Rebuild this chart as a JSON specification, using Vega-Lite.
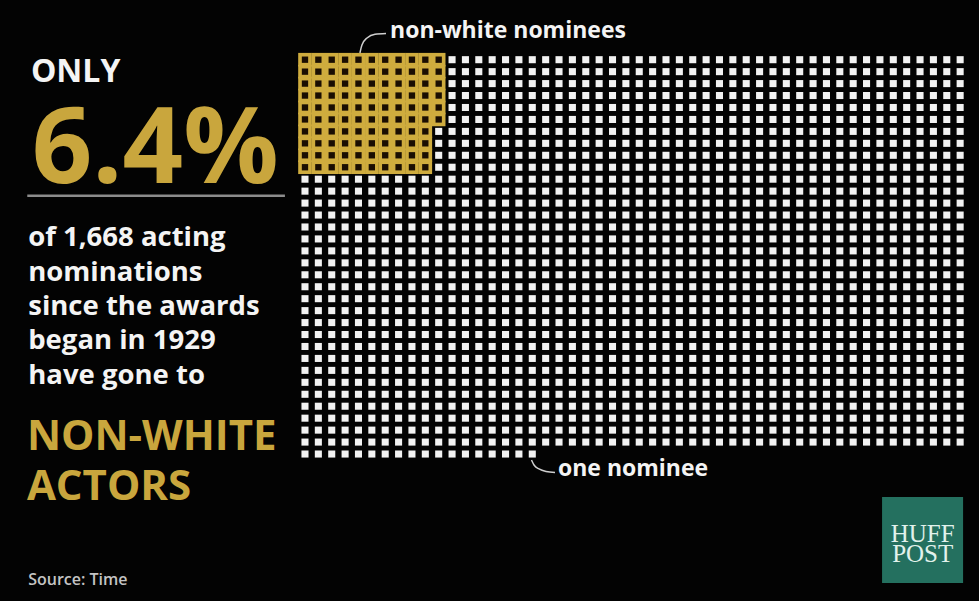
{
  "$schema": "https://vega.github.io/schema/vega-lite/v6.json",
  "width": 979,
  "height": 601,
  "padding": 0,
  "autosize": {"type": "none"},
  "background": "#030303",
  "config": {"view": {"stroke": null}},
  "datasets": {
    "cells": [
      {"c":0,"r":0,"g":1},{"c":1,"r":0,"g":1},{"c":2,"r":0,"g":1},{"c":3,"r":0,"g":1},{"c":4,"r":0,"g":1},{"c":5,"r":0,"g":1},{"c":6,"r":0,"g":1},{"c":7,"r":0,"g":1},{"c":8,"r":0,"g":1},{"c":9,"r":0,"g":1},{"c":10,"r":0,"g":1},
      {"c":11,"r":0},{"c":12,"r":0},{"c":13,"r":0},{"c":14,"r":0},{"c":15,"r":0},{"c":16,"r":0},{"c":17,"r":0},{"c":18,"r":0},{"c":19,"r":0},{"c":20,"r":0},{"c":21,"r":0},{"c":22,"r":0},{"c":23,"r":0},{"c":24,"r":0},{"c":25,"r":0},{"c":26,"r":0},{"c":27,"r":0},{"c":28,"r":0},{"c":29,"r":0},{"c":30,"r":0},{"c":31,"r":0},{"c":32,"r":0},{"c":33,"r":0},{"c":34,"r":0},{"c":35,"r":0},{"c":36,"r":0},{"c":37,"r":0},{"c":38,"r":0},{"c":39,"r":0},{"c":40,"r":0},{"c":41,"r":0},{"c":42,"r":0},{"c":43,"r":0},{"c":44,"r":0},{"c":45,"r":0},{"c":46,"r":0},{"c":47,"r":0},{"c":48,"r":0},{"c":49,"r":0},
      {"c":0,"r":1,"g":1},{"c":1,"r":1,"g":1},{"c":2,"r":1,"g":1},{"c":3,"r":1,"g":1},{"c":4,"r":1,"g":1},{"c":5,"r":1,"g":1},{"c":6,"r":1,"g":1},{"c":7,"r":1,"g":1},{"c":8,"r":1,"g":1},{"c":9,"r":1,"g":1},{"c":10,"r":1,"g":1},
      {"c":11,"r":1},{"c":12,"r":1},{"c":13,"r":1},{"c":14,"r":1},{"c":15,"r":1},{"c":16,"r":1},{"c":17,"r":1},{"c":18,"r":1},{"c":19,"r":1},{"c":20,"r":1},{"c":21,"r":1},{"c":22,"r":1},{"c":23,"r":1},{"c":24,"r":1},{"c":25,"r":1},{"c":26,"r":1},{"c":27,"r":1},{"c":28,"r":1},{"c":29,"r":1},{"c":30,"r":1},{"c":31,"r":1},{"c":32,"r":1},{"c":33,"r":1},{"c":34,"r":1},{"c":35,"r":1},{"c":36,"r":1},{"c":37,"r":1},{"c":38,"r":1},{"c":39,"r":1},{"c":40,"r":1},{"c":41,"r":1},{"c":42,"r":1},{"c":43,"r":1},{"c":44,"r":1},{"c":45,"r":1},{"c":46,"r":1},{"c":47,"r":1},{"c":48,"r":1},{"c":49,"r":1},
      {"c":0,"r":2,"g":1},{"c":1,"r":2,"g":1},{"c":2,"r":2,"g":1},{"c":3,"r":2,"g":1},{"c":4,"r":2,"g":1},{"c":5,"r":2,"g":1},{"c":6,"r":2,"g":1},{"c":7,"r":2,"g":1},{"c":8,"r":2,"g":1},{"c":9,"r":2,"g":1},{"c":10,"r":2,"g":1},
      {"c":11,"r":2},{"c":12,"r":2},{"c":13,"r":2},{"c":14,"r":2},{"c":15,"r":2},{"c":16,"r":2},{"c":17,"r":2},{"c":18,"r":2},{"c":19,"r":2},{"c":20,"r":2},{"c":21,"r":2},{"c":22,"r":2},{"c":23,"r":2},{"c":24,"r":2},{"c":25,"r":2},{"c":26,"r":2},{"c":27,"r":2},{"c":28,"r":2},{"c":29,"r":2},{"c":30,"r":2},{"c":31,"r":2},{"c":32,"r":2},{"c":33,"r":2},{"c":34,"r":2},{"c":35,"r":2},{"c":36,"r":2},{"c":37,"r":2},{"c":38,"r":2},{"c":39,"r":2},{"c":40,"r":2},{"c":41,"r":2},{"c":42,"r":2},{"c":43,"r":2},{"c":44,"r":2},{"c":45,"r":2},{"c":46,"r":2},{"c":47,"r":2},{"c":48,"r":2},{"c":49,"r":2},
      {"c":0,"r":3,"g":1},{"c":1,"r":3,"g":1},{"c":2,"r":3,"g":1},{"c":3,"r":3,"g":1},{"c":4,"r":3,"g":1},{"c":5,"r":3,"g":1},{"c":6,"r":3,"g":1},{"c":7,"r":3,"g":1},{"c":8,"r":3,"g":1},{"c":9,"r":3,"g":1},{"c":10,"r":3,"g":1},
      {"c":11,"r":3},{"c":12,"r":3},{"c":13,"r":3},{"c":14,"r":3},{"c":15,"r":3},{"c":16,"r":3},{"c":17,"r":3},{"c":18,"r":3},{"c":19,"r":3},{"c":20,"r":3},{"c":21,"r":3},{"c":22,"r":3},{"c":23,"r":3},{"c":24,"r":3},{"c":25,"r":3},{"c":26,"r":3},{"c":27,"r":3},{"c":28,"r":3},{"c":29,"r":3},{"c":30,"r":3},{"c":31,"r":3},{"c":32,"r":3},{"c":33,"r":3},{"c":34,"r":3},{"c":35,"r":3},{"c":36,"r":3},{"c":37,"r":3},{"c":38,"r":3},{"c":39,"r":3},{"c":40,"r":3},{"c":41,"r":3},{"c":42,"r":3},{"c":43,"r":3},{"c":44,"r":3},{"c":45,"r":3},{"c":46,"r":3},{"c":47,"r":3},{"c":48,"r":3},{"c":49,"r":3},
      {"c":0,"r":4,"g":1},{"c":1,"r":4,"g":1},{"c":2,"r":4,"g":1},{"c":3,"r":4,"g":1},{"c":4,"r":4,"g":1},{"c":5,"r":4,"g":1},{"c":6,"r":4,"g":1},{"c":7,"r":4,"g":1},{"c":8,"r":4,"g":1},{"c":9,"r":4,"g":1},{"c":10,"r":4,"g":1},
      {"c":11,"r":4},{"c":12,"r":4},{"c":13,"r":4},{"c":14,"r":4},{"c":15,"r":4},{"c":16,"r":4},{"c":17,"r":4},{"c":18,"r":4},{"c":19,"r":4},{"c":20,"r":4},{"c":21,"r":4},{"c":22,"r":4},{"c":23,"r":4},{"c":24,"r":4},{"c":25,"r":4},{"c":26,"r":4},{"c":27,"r":4},{"c":28,"r":4},{"c":29,"r":4},{"c":30,"r":4},{"c":31,"r":4},{"c":32,"r":4},{"c":33,"r":4},{"c":34,"r":4},{"c":35,"r":4},{"c":36,"r":4},{"c":37,"r":4},{"c":38,"r":4},{"c":39,"r":4},{"c":40,"r":4},{"c":41,"r":4},{"c":42,"r":4},{"c":43,"r":4},{"c":44,"r":4},{"c":45,"r":4},{"c":46,"r":4},{"c":47,"r":4},{"c":48,"r":4},{"c":49,"r":4},
      {"c":0,"r":5,"g":1},{"c":1,"r":5,"g":1},{"c":2,"r":5,"g":1},{"c":3,"r":5,"g":1},{"c":4,"r":5,"g":1},{"c":5,"r":5,"g":1},{"c":6,"r":5,"g":1},{"c":7,"r":5,"g":1},{"c":8,"r":5,"g":1},{"c":9,"r":5,"g":1},{"c":10,"r":5,"g":1},
      {"c":11,"r":5},{"c":12,"r":5},{"c":13,"r":5},{"c":14,"r":5},{"c":15,"r":5},{"c":16,"r":5},{"c":17,"r":5},{"c":18,"r":5},{"c":19,"r":5},{"c":20,"r":5},{"c":21,"r":5},{"c":22,"r":5},{"c":23,"r":5},{"c":24,"r":5},{"c":25,"r":5},{"c":26,"r":5},{"c":27,"r":5},{"c":28,"r":5},{"c":29,"r":5},{"c":30,"r":5},{"c":31,"r":5},{"c":32,"r":5},{"c":33,"r":5},{"c":34,"r":5},{"c":35,"r":5},{"c":36,"r":5},{"c":37,"r":5},{"c":38,"r":5},{"c":39,"r":5},{"c":40,"r":5},{"c":41,"r":5},{"c":42,"r":5},{"c":43,"r":5},{"c":44,"r":5},{"c":45,"r":5},{"c":46,"r":5},{"c":47,"r":5},{"c":48,"r":5},{"c":49,"r":5},
      {"c":0,"r":6,"g":1},{"c":1,"r":6,"g":1},{"c":2,"r":6,"g":1},{"c":3,"r":6,"g":1},{"c":4,"r":6,"g":1},{"c":5,"r":6,"g":1},{"c":6,"r":6,"g":1},{"c":7,"r":6,"g":1},{"c":8,"r":6,"g":1},{"c":9,"r":6,"g":1},
      {"c":10,"r":6},{"c":11,"r":6},{"c":12,"r":6},{"c":13,"r":6},{"c":14,"r":6},{"c":15,"r":6},{"c":16,"r":6},{"c":17,"r":6},{"c":18,"r":6},{"c":19,"r":6},{"c":20,"r":6},{"c":21,"r":6},{"c":22,"r":6},{"c":23,"r":6},{"c":24,"r":6},{"c":25,"r":6},{"c":26,"r":6},{"c":27,"r":6},{"c":28,"r":6},{"c":29,"r":6},{"c":30,"r":6},{"c":31,"r":6},{"c":32,"r":6},{"c":33,"r":6},{"c":34,"r":6},{"c":35,"r":6},{"c":36,"r":6},{"c":37,"r":6},{"c":38,"r":6},{"c":39,"r":6},{"c":40,"r":6},{"c":41,"r":6},{"c":42,"r":6},{"c":43,"r":6},{"c":44,"r":6},{"c":45,"r":6},{"c":46,"r":6},{"c":47,"r":6},{"c":48,"r":6},{"c":49,"r":6},
      {"c":0,"r":7,"g":1},{"c":1,"r":7,"g":1},{"c":2,"r":7,"g":1},{"c":3,"r":7,"g":1},{"c":4,"r":7,"g":1},{"c":5,"r":7,"g":1},{"c":6,"r":7,"g":1},{"c":7,"r":7,"g":1},{"c":8,"r":7,"g":1},{"c":9,"r":7,"g":1},
      {"c":10,"r":7},{"c":11,"r":7},{"c":12,"r":7},{"c":13,"r":7},{"c":14,"r":7},{"c":15,"r":7},{"c":16,"r":7},{"c":17,"r":7},{"c":18,"r":7},{"c":19,"r":7},{"c":20,"r":7},{"c":21,"r":7},{"c":22,"r":7},{"c":23,"r":7},{"c":24,"r":7},{"c":25,"r":7},{"c":26,"r":7},{"c":27,"r":7},{"c":28,"r":7},{"c":29,"r":7},{"c":30,"r":7},{"c":31,"r":7},{"c":32,"r":7},{"c":33,"r":7},{"c":34,"r":7},{"c":35,"r":7},{"c":36,"r":7},{"c":37,"r":7},{"c":38,"r":7},{"c":39,"r":7},{"c":40,"r":7},{"c":41,"r":7},{"c":42,"r":7},{"c":43,"r":7},{"c":44,"r":7},{"c":45,"r":7},{"c":46,"r":7},{"c":47,"r":7},{"c":48,"r":7},{"c":49,"r":7},
      {"c":0,"r":8,"g":1},{"c":1,"r":8,"g":1},{"c":2,"r":8,"g":1},{"c":3,"r":8,"g":1},{"c":4,"r":8,"g":1},{"c":5,"r":8,"g":1},{"c":6,"r":8,"g":1},{"c":7,"r":8,"g":1},{"c":8,"r":8,"g":1},{"c":9,"r":8,"g":1},
      {"c":10,"r":8},{"c":11,"r":8},{"c":12,"r":8},{"c":13,"r":8},{"c":14,"r":8},{"c":15,"r":8},{"c":16,"r":8},{"c":17,"r":8},{"c":18,"r":8},{"c":19,"r":8},{"c":20,"r":8},{"c":21,"r":8},{"c":22,"r":8},{"c":23,"r":8},{"c":24,"r":8},{"c":25,"r":8},{"c":26,"r":8},{"c":27,"r":8},{"c":28,"r":8},{"c":29,"r":8},{"c":30,"r":8},{"c":31,"r":8},{"c":32,"r":8},{"c":33,"r":8},{"c":34,"r":8},{"c":35,"r":8},{"c":36,"r":8},{"c":37,"r":8},{"c":38,"r":8},{"c":39,"r":8},{"c":40,"r":8},{"c":41,"r":8},{"c":42,"r":8},{"c":43,"r":8},{"c":44,"r":8},{"c":45,"r":8},{"c":46,"r":8},{"c":47,"r":8},{"c":48,"r":8},{"c":49,"r":8},
      {"c":0,"r":9,"g":1},{"c":1,"r":9,"g":1},{"c":2,"r":9,"g":1},{"c":3,"r":9,"g":1},{"c":4,"r":9,"g":1},{"c":5,"r":9,"g":1},{"c":6,"r":9,"g":1},{"c":7,"r":9,"g":1},{"c":8,"r":9,"g":1},{"c":9,"r":9,"g":1},
      {"c":10,"r":9},{"c":11,"r":9},{"c":12,"r":9},{"c":13,"r":9},{"c":14,"r":9},{"c":15,"r":9},{"c":16,"r":9},{"c":17,"r":9},{"c":18,"r":9},{"c":19,"r":9},{"c":20,"r":9},{"c":21,"r":9},{"c":22,"r":9},{"c":23,"r":9},{"c":24,"r":9},{"c":25,"r":9},{"c":26,"r":9},{"c":27,"r":9},{"c":28,"r":9},{"c":29,"r":9},{"c":30,"r":9},{"c":31,"r":9},{"c":32,"r":9},{"c":33,"r":9},{"c":34,"r":9},{"c":35,"r":9},{"c":36,"r":9},{"c":37,"r":9},{"c":38,"r":9},{"c":39,"r":9},{"c":40,"r":9},{"c":41,"r":9},{"c":42,"r":9},{"c":43,"r":9},{"c":44,"r":9},{"c":45,"r":9},{"c":46,"r":9},{"c":47,"r":9},{"c":48,"r":9},{"c":49,"r":9},
      {"c":0,"r":10},{"c":1,"r":10},{"c":2,"r":10},{"c":3,"r":10},{"c":4,"r":10},{"c":5,"r":10},{"c":6,"r":10},{"c":7,"r":10},{"c":8,"r":10},{"c":9,"r":10},{"c":10,"r":10},{"c":11,"r":10},{"c":12,"r":10},{"c":13,"r":10},{"c":14,"r":10},{"c":15,"r":10},{"c":16,"r":10},{"c":17,"r":10},{"c":18,"r":10},{"c":19,"r":10},{"c":20,"r":10},{"c":21,"r":10},{"c":22,"r":10},{"c":23,"r":10},{"c":24,"r":10},{"c":25,"r":10},{"c":26,"r":10},{"c":27,"r":10},{"c":28,"r":10},{"c":29,"r":10},{"c":30,"r":10},{"c":31,"r":10},{"c":32,"r":10},{"c":33,"r":10},{"c":34,"r":10},{"c":35,"r":10},{"c":36,"r":10},{"c":37,"r":10},{"c":38,"r":10},{"c":39,"r":10},{"c":40,"r":10},{"c":41,"r":10},{"c":42,"r":10},{"c":43,"r":10},{"c":44,"r":10},{"c":45,"r":10},{"c":46,"r":10},{"c":47,"r":10},{"c":48,"r":10},{"c":49,"r":10},
      {"c":0,"r":11},{"c":1,"r":11},{"c":2,"r":11},{"c":3,"r":11},{"c":4,"r":11},{"c":5,"r":11},{"c":6,"r":11},{"c":7,"r":11},{"c":8,"r":11},{"c":9,"r":11},{"c":10,"r":11},{"c":11,"r":11},{"c":12,"r":11},{"c":13,"r":11},{"c":14,"r":11},{"c":15,"r":11},{"c":16,"r":11},{"c":17,"r":11},{"c":18,"r":11},{"c":19,"r":11},{"c":20,"r":11},{"c":21,"r":11},{"c":22,"r":11},{"c":23,"r":11},{"c":24,"r":11},{"c":25,"r":11},{"c":26,"r":11},{"c":27,"r":11},{"c":28,"r":11},{"c":29,"r":11},{"c":30,"r":11},{"c":31,"r":11},{"c":32,"r":11},{"c":33,"r":11},{"c":34,"r":11},{"c":35,"r":11},{"c":36,"r":11},{"c":37,"r":11},{"c":38,"r":11},{"c":39,"r":11},{"c":40,"r":11},{"c":41,"r":11},{"c":42,"r":11},{"c":43,"r":11},{"c":44,"r":11},{"c":45,"r":11},{"c":46,"r":11},{"c":47,"r":11},{"c":48,"r":11},{"c":49,"r":11},
      {"c":0,"r":12},{"c":1,"r":12},{"c":2,"r":12},{"c":3,"r":12},{"c":4,"r":12},{"c":5,"r":12},{"c":6,"r":12},{"c":7,"r":12},{"c":8,"r":12},{"c":9,"r":12},{"c":10,"r":12},{"c":11,"r":12},{"c":12,"r":12},{"c":13,"r":12},{"c":14,"r":12},{"c":15,"r":12},{"c":16,"r":12},{"c":17,"r":12},{"c":18,"r":12},{"c":19,"r":12},{"c":20,"r":12},{"c":21,"r":12},{"c":22,"r":12},{"c":23,"r":12},{"c":24,"r":12},{"c":25,"r":12},{"c":26,"r":12},{"c":27,"r":12},{"c":28,"r":12},{"c":29,"r":12},{"c":30,"r":12},{"c":31,"r":12},{"c":32,"r":12},{"c":33,"r":12},{"c":34,"r":12},{"c":35,"r":12},{"c":36,"r":12},{"c":37,"r":12},{"c":38,"r":12},{"c":39,"r":12},{"c":40,"r":12},{"c":41,"r":12},{"c":42,"r":12},{"c":43,"r":12},{"c":44,"r":12},{"c":45,"r":12},{"c":46,"r":12},{"c":47,"r":12},{"c":48,"r":12},{"c":49,"r":12},
      {"c":0,"r":13},{"c":1,"r":13},{"c":2,"r":13},{"c":3,"r":13},{"c":4,"r":13},{"c":5,"r":13},{"c":6,"r":13},{"c":7,"r":13},{"c":8,"r":13},{"c":9,"r":13},{"c":10,"r":13},{"c":11,"r":13},{"c":12,"r":13},{"c":13,"r":13},{"c":14,"r":13},{"c":15,"r":13},{"c":16,"r":13},{"c":17,"r":13},{"c":18,"r":13},{"c":19,"r":13},{"c":20,"r":13},{"c":21,"r":13},{"c":22,"r":13},{"c":23,"r":13},{"c":24,"r":13},{"c":25,"r":13},{"c":26,"r":13},{"c":27,"r":13},{"c":28,"r":13},{"c":29,"r":13},{"c":30,"r":13},{"c":31,"r":13},{"c":32,"r":13},{"c":33,"r":13},{"c":34,"r":13},{"c":35,"r":13},{"c":36,"r":13},{"c":37,"r":13},{"c":38,"r":13},{"c":39,"r":13},{"c":40,"r":13},{"c":41,"r":13},{"c":42,"r":13},{"c":43,"r":13},{"c":44,"r":13},{"c":45,"r":13},{"c":46,"r":13},{"c":47,"r":13},{"c":48,"r":13},{"c":49,"r":13},
      {"c":0,"r":14},{"c":1,"r":14},{"c":2,"r":14},{"c":3,"r":14},{"c":4,"r":14},{"c":5,"r":14},{"c":6,"r":14},{"c":7,"r":14},{"c":8,"r":14},{"c":9,"r":14},{"c":10,"r":14},{"c":11,"r":14},{"c":12,"r":14},{"c":13,"r":14},{"c":14,"r":14},{"c":15,"r":14},{"c":16,"r":14},{"c":17,"r":14},{"c":18,"r":14},{"c":19,"r":14},{"c":20,"r":14},{"c":21,"r":14},{"c":22,"r":14},{"c":23,"r":14},{"c":24,"r":14},{"c":25,"r":14},{"c":26,"r":14},{"c":27,"r":14},{"c":28,"r":14},{"c":29,"r":14},{"c":30,"r":14},{"c":31,"r":14},{"c":32,"r":14},{"c":33,"r":14},{"c":34,"r":14},{"c":35,"r":14},{"c":36,"r":14},{"c":37,"r":14},{"c":38,"r":14},{"c":39,"r":14},{"c":40,"r":14},{"c":41,"r":14},{"c":42,"r":14},{"c":43,"r":14},{"c":44,"r":14},{"c":45,"r":14},{"c":46,"r":14},{"c":47,"r":14},{"c":48,"r":14},{"c":49,"r":14},
      {"c":0,"r":15},{"c":1,"r":15},{"c":2,"r":15},{"c":3,"r":15},{"c":4,"r":15},{"c":5,"r":15},{"c":6,"r":15},{"c":7,"r":15},{"c":8,"r":15},{"c":9,"r":15},{"c":10,"r":15},{"c":11,"r":15},{"c":12,"r":15},{"c":13,"r":15},{"c":14,"r":15},{"c":15,"r":15},{"c":16,"r":15},{"c":17,"r":15},{"c":18,"r":15},{"c":19,"r":15},{"c":20,"r":15},{"c":21,"r":15},{"c":22,"r":15},{"c":23,"r":15},{"c":24,"r":15},{"c":25,"r":15},{"c":26,"r":15},{"c":27,"r":15},{"c":28,"r":15},{"c":29,"r":15},{"c":30,"r":15},{"c":31,"r":15},{"c":32,"r":15},{"c":33,"r":15},{"c":34,"r":15},{"c":35,"r":15},{"c":36,"r":15},{"c":37,"r":15},{"c":38,"r":15},{"c":39,"r":15},{"c":40,"r":15},{"c":41,"r":15},{"c":42,"r":15},{"c":43,"r":15},{"c":44,"r":15},{"c":45,"r":15},{"c":46,"r":15},{"c":47,"r":15},{"c":48,"r":15},{"c":49,"r":15},
      {"c":0,"r":16},{"c":1,"r":16},{"c":2,"r":16},{"c":3,"r":16},{"c":4,"r":16},{"c":5,"r":16},{"c":6,"r":16},{"c":7,"r":16},{"c":8,"r":16},{"c":9,"r":16},{"c":10,"r":16},{"c":11,"r":16},{"c":12,"r":16},{"c":13,"r":16},{"c":14,"r":16},{"c":15,"r":16},{"c":16,"r":16},{"c":17,"r":16},{"c":18,"r":16},{"c":19,"r":16},{"c":20,"r":16},{"c":21,"r":16},{"c":22,"r":16},{"c":23,"r":16},{"c":24,"r":16},{"c":25,"r":16},{"c":26,"r":16},{"c":27,"r":16},{"c":28,"r":16},{"c":29,"r":16},{"c":30,"r":16},{"c":31,"r":16},{"c":32,"r":16},{"c":33,"r":16},{"c":34,"r":16},{"c":35,"r":16},{"c":36,"r":16},{"c":37,"r":16},{"c":38,"r":16},{"c":39,"r":16},{"c":40,"r":16},{"c":41,"r":16},{"c":42,"r":16},{"c":43,"r":16},{"c":44,"r":16},{"c":45,"r":16},{"c":46,"r":16},{"c":47,"r":16},{"c":48,"r":16},{"c":49,"r":16},
      {"c":0,"r":17},{"c":1,"r":17},{"c":2,"r":17},{"c":3,"r":17},{"c":4,"r":17},{"c":5,"r":17},{"c":6,"r":17},{"c":7,"r":17},{"c":8,"r":17},{"c":9,"r":17},{"c":10,"r":17},{"c":11,"r":17},{"c":12,"r":17},{"c":13,"r":17},{"c":14,"r":17},{"c":15,"r":17},{"c":16,"r":17},{"c":17,"r":17},{"c":18,"r":17},{"c":19,"r":17},{"c":20,"r":17},{"c":21,"r":17},{"c":22,"r":17},{"c":23,"r":17},{"c":24,"r":17},{"c":25,"r":17},{"c":26,"r":17},{"c":27,"r":17},{"c":28,"r":17},{"c":29,"r":17},{"c":30,"r":17},{"c":31,"r":17},{"c":32,"r":17},{"c":33,"r":17},{"c":34,"r":17},{"c":35,"r":17},{"c":36,"r":17},{"c":37,"r":17},{"c":38,"r":17},{"c":39,"r":17},{"c":40,"r":17},{"c":41,"r":17},{"c":42,"r":17},{"c":43,"r":17},{"c":44,"r":17},{"c":45,"r":17},{"c":46,"r":17},{"c":47,"r":17},{"c":48,"r":17},{"c":49,"r":17},
      {"c":0,"r":18},{"c":1,"r":18},{"c":2,"r":18},{"c":3,"r":18},{"c":4,"r":18},{"c":5,"r":18},{"c":6,"r":18},{"c":7,"r":18},{"c":8,"r":18},{"c":9,"r":18},{"c":10,"r":18},{"c":11,"r":18},{"c":12,"r":18},{"c":13,"r":18},{"c":14,"r":18},{"c":15,"r":18},{"c":16,"r":18},{"c":17,"r":18},{"c":18,"r":18},{"c":19,"r":18},{"c":20,"r":18},{"c":21,"r":18},{"c":22,"r":18},{"c":23,"r":18},{"c":24,"r":18},{"c":25,"r":18},{"c":26,"r":18},{"c":27,"r":18},{"c":28,"r":18},{"c":29,"r":18},{"c":30,"r":18},{"c":31,"r":18},{"c":32,"r":18},{"c":33,"r":18},{"c":34,"r":18},{"c":35,"r":18},{"c":36,"r":18},{"c":37,"r":18},{"c":38,"r":18},{"c":39,"r":18},{"c":40,"r":18},{"c":41,"r":18},{"c":42,"r":18},{"c":43,"r":18},{"c":44,"r":18},{"c":45,"r":18},{"c":46,"r":18},{"c":47,"r":18},{"c":48,"r":18},{"c":49,"r":18},
      {"c":0,"r":19},{"c":1,"r":19},{"c":2,"r":19},{"c":3,"r":19},{"c":4,"r":19},{"c":5,"r":19},{"c":6,"r":19},{"c":7,"r":19},{"c":8,"r":19},{"c":9,"r":19},{"c":10,"r":19},{"c":11,"r":19},{"c":12,"r":19},{"c":13,"r":19},{"c":14,"r":19},{"c":15,"r":19},{"c":16,"r":19},{"c":17,"r":19},{"c":18,"r":19},{"c":19,"r":19},{"c":20,"r":19},{"c":21,"r":19},{"c":22,"r":19},{"c":23,"r":19},{"c":24,"r":19},{"c":25,"r":19},{"c":26,"r":19},{"c":27,"r":19},{"c":28,"r":19},{"c":29,"r":19},{"c":30,"r":19},{"c":31,"r":19},{"c":32,"r":19},{"c":33,"r":19},{"c":34,"r":19},{"c":35,"r":19},{"c":36,"r":19},{"c":37,"r":19},{"c":38,"r":19},{"c":39,"r":19},{"c":40,"r":19},{"c":41,"r":19},{"c":42,"r":19},{"c":43,"r":19},{"c":44,"r":19},{"c":45,"r":19},{"c":46,"r":19},{"c":47,"r":19},{"c":48,"r":19},{"c":49,"r":19},
      {"c":0,"r":20},{"c":1,"r":20},{"c":2,"r":20},{"c":3,"r":20},{"c":4,"r":20},{"c":5,"r":20},{"c":6,"r":20},{"c":7,"r":20},{"c":8,"r":20},{"c":9,"r":20},{"c":10,"r":20},{"c":11,"r":20},{"c":12,"r":20},{"c":13,"r":20},{"c":14,"r":20},{"c":15,"r":20},{"c":16,"r":20},{"c":17,"r":20},{"c":18,"r":20},{"c":19,"r":20},{"c":20,"r":20},{"c":21,"r":20},{"c":22,"r":20},{"c":23,"r":20},{"c":24,"r":20},{"c":25,"r":20},{"c":26,"r":20},{"c":27,"r":20},{"c":28,"r":20},{"c":29,"r":20},{"c":30,"r":20},{"c":31,"r":20},{"c":32,"r":20},{"c":33,"r":20},{"c":34,"r":20},{"c":35,"r":20},{"c":36,"r":20},{"c":37,"r":20},{"c":38,"r":20},{"c":39,"r":20},{"c":40,"r":20},{"c":41,"r":20},{"c":42,"r":20},{"c":43,"r":20},{"c":44,"r":20},{"c":45,"r":20},{"c":46,"r":20},{"c":47,"r":20},{"c":48,"r":20},{"c":49,"r":20},
      {"c":0,"r":21},{"c":1,"r":21},{"c":2,"r":21},{"c":3,"r":21},{"c":4,"r":21},{"c":5,"r":21},{"c":6,"r":21},{"c":7,"r":21},{"c":8,"r":21},{"c":9,"r":21},{"c":10,"r":21},{"c":11,"r":21},{"c":12,"r":21},{"c":13,"r":21},{"c":14,"r":21},{"c":15,"r":21},{"c":16,"r":21},{"c":17,"r":21},{"c":18,"r":21},{"c":19,"r":21},{"c":20,"r":21},{"c":21,"r":21},{"c":22,"r":21},{"c":23,"r":21},{"c":24,"r":21},{"c":25,"r":21},{"c":26,"r":21},{"c":27,"r":21},{"c":28,"r":21},{"c":29,"r":21},{"c":30,"r":21},{"c":31,"r":21},{"c":32,"r":21},{"c":33,"r":21},{"c":34,"r":21},{"c":35,"r":21},{"c":36,"r":21},{"c":37,"r":21},{"c":38,"r":21},{"c":39,"r":21},{"c":40,"r":21},{"c":41,"r":21},{"c":42,"r":21},{"c":43,"r":21},{"c":44,"r":21},{"c":45,"r":21},{"c":46,"r":21},{"c":47,"r":21},{"c":48,"r":21},{"c":49,"r":21},
      {"c":0,"r":22},{"c":1,"r":22},{"c":2,"r":22},{"c":3,"r":22},{"c":4,"r":22},{"c":5,"r":22},{"c":6,"r":22},{"c":7,"r":22},{"c":8,"r":22},{"c":9,"r":22},{"c":10,"r":22},{"c":11,"r":22},{"c":12,"r":22},{"c":13,"r":22},{"c":14,"r":22},{"c":15,"r":22},{"c":16,"r":22},{"c":17,"r":22},{"c":18,"r":22},{"c":19,"r":22},{"c":20,"r":22},{"c":21,"r":22},{"c":22,"r":22},{"c":23,"r":22},{"c":24,"r":22},{"c":25,"r":22},{"c":26,"r":22},{"c":27,"r":22},{"c":28,"r":22},{"c":29,"r":22},{"c":30,"r":22},{"c":31,"r":22},{"c":32,"r":22},{"c":33,"r":22},{"c":34,"r":22},{"c":35,"r":22},{"c":36,"r":22},{"c":37,"r":22},{"c":38,"r":22},{"c":39,"r":22},{"c":40,"r":22},{"c":41,"r":22},{"c":42,"r":22},{"c":43,"r":22},{"c":44,"r":22},{"c":45,"r":22},{"c":46,"r":22},{"c":47,"r":22},{"c":48,"r":22},{"c":49,"r":22},
      {"c":0,"r":23},{"c":1,"r":23},{"c":2,"r":23},{"c":3,"r":23},{"c":4,"r":23},{"c":5,"r":23},{"c":6,"r":23},{"c":7,"r":23},{"c":8,"r":23},{"c":9,"r":23},{"c":10,"r":23},{"c":11,"r":23},{"c":12,"r":23},{"c":13,"r":23},{"c":14,"r":23},{"c":15,"r":23},{"c":16,"r":23},{"c":17,"r":23},{"c":18,"r":23},{"c":19,"r":23},{"c":20,"r":23},{"c":21,"r":23},{"c":22,"r":23},{"c":23,"r":23},{"c":24,"r":23},{"c":25,"r":23},{"c":26,"r":23},{"c":27,"r":23},{"c":28,"r":23},{"c":29,"r":23},{"c":30,"r":23},{"c":31,"r":23},{"c":32,"r":23},{"c":33,"r":23},{"c":34,"r":23},{"c":35,"r":23},{"c":36,"r":23},{"c":37,"r":23},{"c":38,"r":23},{"c":39,"r":23},{"c":40,"r":23},{"c":41,"r":23},{"c":42,"r":23},{"c":43,"r":23},{"c":44,"r":23},{"c":45,"r":23},{"c":46,"r":23},{"c":47,"r":23},{"c":48,"r":23},{"c":49,"r":23},
      {"c":0,"r":24},{"c":1,"r":24},{"c":2,"r":24},{"c":3,"r":24},{"c":4,"r":24},{"c":5,"r":24},{"c":6,"r":24},{"c":7,"r":24},{"c":8,"r":24},{"c":9,"r":24},{"c":10,"r":24},{"c":11,"r":24},{"c":12,"r":24},{"c":13,"r":24},{"c":14,"r":24},{"c":15,"r":24},{"c":16,"r":24},{"c":17,"r":24},{"c":18,"r":24},{"c":19,"r":24},{"c":20,"r":24},{"c":21,"r":24},{"c":22,"r":24},{"c":23,"r":24},{"c":24,"r":24},{"c":25,"r":24},{"c":26,"r":24},{"c":27,"r":24},{"c":28,"r":24},{"c":29,"r":24},{"c":30,"r":24},{"c":31,"r":24},{"c":32,"r":24},{"c":33,"r":24},{"c":34,"r":24},{"c":35,"r":24},{"c":36,"r":24},{"c":37,"r":24},{"c":38,"r":24},{"c":39,"r":24},{"c":40,"r":24},{"c":41,"r":24},{"c":42,"r":24},{"c":43,"r":24},{"c":44,"r":24},{"c":45,"r":24},{"c":46,"r":24},{"c":47,"r":24},{"c":48,"r":24},{"c":49,"r":24},
      {"c":0,"r":25},{"c":1,"r":25},{"c":2,"r":25},{"c":3,"r":25},{"c":4,"r":25},{"c":5,"r":25},{"c":6,"r":25},{"c":7,"r":25},{"c":8,"r":25},{"c":9,"r":25},{"c":10,"r":25},{"c":11,"r":25},{"c":12,"r":25},{"c":13,"r":25},{"c":14,"r":25},{"c":15,"r":25},{"c":16,"r":25},{"c":17,"r":25},{"c":18,"r":25},{"c":19,"r":25},{"c":20,"r":25},{"c":21,"r":25},{"c":22,"r":25},{"c":23,"r":25},{"c":24,"r":25},{"c":25,"r":25},{"c":26,"r":25},{"c":27,"r":25},{"c":28,"r":25},{"c":29,"r":25},{"c":30,"r":25},{"c":31,"r":25},{"c":32,"r":25},{"c":33,"r":25},{"c":34,"r":25},{"c":35,"r":25},{"c":36,"r":25},{"c":37,"r":25},{"c":38,"r":25},{"c":39,"r":25},{"c":40,"r":25},{"c":41,"r":25},{"c":42,"r":25},{"c":43,"r":25},{"c":44,"r":25},{"c":45,"r":25},{"c":46,"r":25},{"c":47,"r":25},{"c":48,"r":25},{"c":49,"r":25},
      {"c":0,"r":26},{"c":1,"r":26},{"c":2,"r":26},{"c":3,"r":26},{"c":4,"r":26},{"c":5,"r":26},{"c":6,"r":26},{"c":7,"r":26},{"c":8,"r":26},{"c":9,"r":26},{"c":10,"r":26},{"c":11,"r":26},{"c":12,"r":26},{"c":13,"r":26},{"c":14,"r":26},{"c":15,"r":26},{"c":16,"r":26},{"c":17,"r":26},{"c":18,"r":26},{"c":19,"r":26},{"c":20,"r":26},{"c":21,"r":26},{"c":22,"r":26},{"c":23,"r":26},{"c":24,"r":26},{"c":25,"r":26},{"c":26,"r":26},{"c":27,"r":26},{"c":28,"r":26},{"c":29,"r":26},{"c":30,"r":26},{"c":31,"r":26},{"c":32,"r":26},{"c":33,"r":26},{"c":34,"r":26},{"c":35,"r":26},{"c":36,"r":26},{"c":37,"r":26},{"c":38,"r":26},{"c":39,"r":26},{"c":40,"r":26},{"c":41,"r":26},{"c":42,"r":26},{"c":43,"r":26},{"c":44,"r":26},{"c":45,"r":26},{"c":46,"r":26},{"c":47,"r":26},{"c":48,"r":26},{"c":49,"r":26},
      {"c":0,"r":27},{"c":1,"r":27},{"c":2,"r":27},{"c":3,"r":27},{"c":4,"r":27},{"c":5,"r":27},{"c":6,"r":27},{"c":7,"r":27},{"c":8,"r":27},{"c":9,"r":27},{"c":10,"r":27},{"c":11,"r":27},{"c":12,"r":27},{"c":13,"r":27},{"c":14,"r":27},{"c":15,"r":27},{"c":16,"r":27},{"c":17,"r":27},{"c":18,"r":27},{"c":19,"r":27},{"c":20,"r":27},{"c":21,"r":27},{"c":22,"r":27},{"c":23,"r":27},{"c":24,"r":27},{"c":25,"r":27},{"c":26,"r":27},{"c":27,"r":27},{"c":28,"r":27},{"c":29,"r":27},{"c":30,"r":27},{"c":31,"r":27},{"c":32,"r":27},{"c":33,"r":27},{"c":34,"r":27},{"c":35,"r":27},{"c":36,"r":27},{"c":37,"r":27},{"c":38,"r":27},{"c":39,"r":27},{"c":40,"r":27},{"c":41,"r":27},{"c":42,"r":27},{"c":43,"r":27},{"c":44,"r":27},{"c":45,"r":27},{"c":46,"r":27},{"c":47,"r":27},{"c":48,"r":27},{"c":49,"r":27},
      {"c":0,"r":28},{"c":1,"r":28},{"c":2,"r":28},{"c":3,"r":28},{"c":4,"r":28},{"c":5,"r":28},{"c":6,"r":28},{"c":7,"r":28},{"c":8,"r":28},{"c":9,"r":28},{"c":10,"r":28},{"c":11,"r":28},{"c":12,"r":28},{"c":13,"r":28},{"c":14,"r":28},{"c":15,"r":28},{"c":16,"r":28},{"c":17,"r":28},{"c":18,"r":28},{"c":19,"r":28},{"c":20,"r":28},{"c":21,"r":28},{"c":22,"r":28},{"c":23,"r":28},{"c":24,"r":28},{"c":25,"r":28},{"c":26,"r":28},{"c":27,"r":28},{"c":28,"r":28},{"c":29,"r":28},{"c":30,"r":28},{"c":31,"r":28},{"c":32,"r":28},{"c":33,"r":28},{"c":34,"r":28},{"c":35,"r":28},{"c":36,"r":28},{"c":37,"r":28},{"c":38,"r":28},{"c":39,"r":28},{"c":40,"r":28},{"c":41,"r":28},{"c":42,"r":28},{"c":43,"r":28},{"c":44,"r":28},{"c":45,"r":28},{"c":46,"r":28},{"c":47,"r":28},{"c":48,"r":28},{"c":49,"r":28},
      {"c":0,"r":29},{"c":1,"r":29},{"c":2,"r":29},{"c":3,"r":29},{"c":4,"r":29},{"c":5,"r":29},{"c":6,"r":29},{"c":7,"r":29},{"c":8,"r":29},{"c":9,"r":29},{"c":10,"r":29},{"c":11,"r":29},{"c":12,"r":29},{"c":13,"r":29},{"c":14,"r":29},{"c":15,"r":29},{"c":16,"r":29},{"c":17,"r":29},{"c":18,"r":29},{"c":19,"r":29},{"c":20,"r":29},{"c":21,"r":29},{"c":22,"r":29},{"c":23,"r":29},{"c":24,"r":29},{"c":25,"r":29},{"c":26,"r":29},{"c":27,"r":29},{"c":28,"r":29},{"c":29,"r":29},{"c":30,"r":29},{"c":31,"r":29},{"c":32,"r":29},{"c":33,"r":29},{"c":34,"r":29},{"c":35,"r":29},{"c":36,"r":29},{"c":37,"r":29},{"c":38,"r":29},{"c":39,"r":29},{"c":40,"r":29},{"c":41,"r":29},{"c":42,"r":29},{"c":43,"r":29},{"c":44,"r":29},{"c":45,"r":29},{"c":46,"r":29},{"c":47,"r":29},{"c":48,"r":29},{"c":49,"r":29},
      {"c":0,"r":30},{"c":1,"r":30},{"c":2,"r":30},{"c":3,"r":30},{"c":4,"r":30},{"c":5,"r":30},{"c":6,"r":30},{"c":7,"r":30},{"c":8,"r":30},{"c":9,"r":30},{"c":10,"r":30},{"c":11,"r":30},{"c":12,"r":30},{"c":13,"r":30},{"c":14,"r":30},{"c":15,"r":30},{"c":16,"r":30},{"c":17,"r":30},{"c":18,"r":30},{"c":19,"r":30},{"c":20,"r":30},{"c":21,"r":30},{"c":22,"r":30},{"c":23,"r":30},{"c":24,"r":30},{"c":25,"r":30},{"c":26,"r":30},{"c":27,"r":30},{"c":28,"r":30},{"c":29,"r":30},{"c":30,"r":30},{"c":31,"r":30},{"c":32,"r":30},{"c":33,"r":30},{"c":34,"r":30},{"c":35,"r":30},{"c":36,"r":30},{"c":37,"r":30},{"c":38,"r":30},{"c":39,"r":30},{"c":40,"r":30},{"c":41,"r":30},{"c":42,"r":30},{"c":43,"r":30},{"c":44,"r":30},{"c":45,"r":30},{"c":46,"r":30},{"c":47,"r":30},{"c":48,"r":30},{"c":49,"r":30},
      {"c":0,"r":31},{"c":1,"r":31},{"c":2,"r":31},{"c":3,"r":31},{"c":4,"r":31},{"c":5,"r":31},{"c":6,"r":31},{"c":7,"r":31},{"c":8,"r":31},{"c":9,"r":31},{"c":10,"r":31},{"c":11,"r":31},{"c":12,"r":31},{"c":13,"r":31},{"c":14,"r":31},{"c":15,"r":31},{"c":16,"r":31},{"c":17,"r":31},{"c":18,"r":31},{"c":19,"r":31},{"c":20,"r":31},{"c":21,"r":31},{"c":22,"r":31},{"c":23,"r":31},{"c":24,"r":31},{"c":25,"r":31},{"c":26,"r":31},{"c":27,"r":31},{"c":28,"r":31},{"c":29,"r":31},{"c":30,"r":31},{"c":31,"r":31},{"c":32,"r":31},{"c":33,"r":31},{"c":34,"r":31},{"c":35,"r":31},{"c":36,"r":31},{"c":37,"r":31},{"c":38,"r":31},{"c":39,"r":31},{"c":40,"r":31},{"c":41,"r":31},{"c":42,"r":31},{"c":43,"r":31},{"c":44,"r":31},{"c":45,"r":31},{"c":46,"r":31},{"c":47,"r":31},{"c":48,"r":31},{"c":49,"r":31},
      {"c":0,"r":32},{"c":1,"r":32},{"c":2,"r":32},{"c":3,"r":32},{"c":4,"r":32},{"c":5,"r":32},{"c":6,"r":32},{"c":7,"r":32},{"c":8,"r":32},{"c":9,"r":32},{"c":10,"r":32},{"c":11,"r":32},{"c":12,"r":32},{"c":13,"r":32},{"c":14,"r":32},{"c":15,"r":32},{"c":16,"r":32},{"c":17,"r":32},{"c":18,"r":32},{"c":19,"r":32},{"c":20,"r":32},{"c":21,"r":32},{"c":22,"r":32},{"c":23,"r":32},{"c":24,"r":32},{"c":25,"r":32},{"c":26,"r":32},{"c":27,"r":32},{"c":28,"r":32},{"c":29,"r":32},{"c":30,"r":32},{"c":31,"r":32},{"c":32,"r":32},{"c":33,"r":32},{"c":34,"r":32},{"c":35,"r":32},{"c":36,"r":32},{"c":37,"r":32},{"c":38,"r":32},{"c":39,"r":32},{"c":40,"r":32},{"c":41,"r":32},{"c":42,"r":32},{"c":43,"r":32},{"c":44,"r":32},{"c":45,"r":32},{"c":46,"r":32},{"c":47,"r":32},{"c":48,"r":32},{"c":49,"r":32},
      {"c":0,"r":33},{"c":1,"r":33},{"c":2,"r":33},{"c":3,"r":33},{"c":4,"r":33},{"c":5,"r":33},{"c":6,"r":33},{"c":7,"r":33},{"c":8,"r":33},{"c":9,"r":33},{"c":10,"r":33},{"c":11,"r":33},{"c":12,"r":33},{"c":13,"r":33},{"c":14,"r":33},{"c":15,"r":33},{"c":16,"r":33},{"c":17,"r":33}
    ]
  },
  "encoding": {
    "x": {"field": "c", "type": "quantitative", "axis": null, "scale": {"domain": [-22.81, 50.41], "nice": false, "zero": false}},
    "y": {"field": "r", "type": "quantitative", "axis": null, "scale": {"domain": [-4.996, 45.3], "nice": false, "zero": false, "reverse": true}}
  },
  "layer": [
    {
      "data": {"name": "cells"},
      "transform": [{"filter": "datum.g == 1"}],
      "mark": {"type": "point", "shape": "square", "filled": true, "size": 185, "color": "#cfac3e", "opacity": 1},
      "encoding": {}
    },
    {
      "data": {"name": "cells"},
      "transform": [{"filter": "datum.g == 1"}],
      "mark": {"type": "point", "shape": "square", "filled": true, "size": 40, "color": "#1a0e02", "opacity": 1},
      "encoding": {}
    },
    {
      "data": {"name": "cells"},
      "transform": [{"filter": "datum.g != 1"}],
      "mark": {"type": "point", "shape": "square", "filled": true, "size": 50, "color": "#f2f2f2", "opacity": 1},
      "encoding": {}
    },
    {
      "data": {"values": [
        {"c": 4.11, "r": -0.56, "i": 0},
        {"c": 4.26, "r": -1.23, "i": 1},
        {"c": 4.64, "r": -1.82, "i": 2},
        {"c": 5.24, "r": -2.13, "i": 3},
        {"c": 6.06, "r": -2.19, "i": 4}
      ]},
      "mark": {"type": "line", "interpolate": "monotone", "color": "#cfcfcf", "strokeWidth": 1.5},
      "encoding": {"order": {"field": "i", "type": "quantitative"}}
    },
    {
      "data": {"values": [
        {"c": 16.94, "r": 33.5, "i": 0},
        {"c": 17.13, "r": 33.92, "i": 1},
        {"c": 17.5, "r": 34.25, "i": 2},
        {"c": 18.03, "r": 34.46, "i": 3},
        {"c": 18.7, "r": 34.54, "i": 4}
      ]},
      "mark": {"type": "line", "interpolate": "monotone", "color": "#cfcfcf", "strokeWidth": 1.5},
      "encoding": {"order": {"field": "i", "type": "quantitative"}}
    },
    {
      "data": {"values": [{"c": -20.77, "c2": -1.5, "r": 11.38}]},
      "mark": {"type": "rule", "color": "#8c8c8c", "strokeWidth": 2.5},
      "encoding": {"x2": {"field": "c2"}}
    },
    {
      "data": {"values": [{"t": "ONLY", "c": -20.5, "r": 1.84}]},
      "mark": {"type": "text", "align": "left", "baseline": "alphabetic", "font": "Open Sans", "fontWeight": "bold", "fontSize": 32, "color": "#f4f4f4"},
      "encoding": {"text": {"field": "t"}}
    },
    {
      "data": {"values": [{"t": "6.4%", "c": -20.44, "r": 10.34}]},
      "mark": {"type": "text", "align": "left", "baseline": "alphabetic", "font": "Open Sans", "fontWeight": "bold", "fontSize": 106, "color": "#c9a63d"},
      "encoding": {"text": {"field": "t"}}
    },
    {
      "data": {"values": [
        {"t": "of 1,668 acting", "c": -20.7, "r": 15.63},
        {"t": "nominations", "c": -20.7, "r": 18.5},
        {"t": "since the awards", "c": -20.7, "r": 21.36},
        {"t": "began in 1929", "c": -20.7, "r": 24.23},
        {"t": "have gone to", "c": -20.7, "r": 27.1}
      ]},
      "mark": {"type": "text", "align": "left", "baseline": "alphabetic", "font": "Open Sans", "fontWeight": "bold", "fontSize": 27.5, "color": "#f4f4f4"},
      "encoding": {"text": {"field": "t"}}
    },
    {
      "data": {"values": [
        {"t": "NON-WHITE", "c": -20.8, "r": 32.66},
        {"t": "ACTORS", "c": -20.8, "r": 36.85}
      ]},
      "mark": {"type": "text", "align": "left", "baseline": "alphabetic", "font": "Open Sans", "fontWeight": "bold", "fontSize": 42, "color": "#c9a63d"},
      "encoding": {"text": {"field": "t"}}
    },
    {
      "data": {"values": [{"t": "Source: Time", "c": -20.7, "r": 43.96}]},
      "mark": {"type": "text", "align": "left", "baseline": "alphabetic", "font": "Open Sans", "fontWeight": 600, "fontSize": 16, "color": "#c4c4c4"},
      "encoding": {"text": {"field": "t"}}
    },
    {
      "data": {"values": [
        {"t": "non-white nominees", "c": 6.36, "r": -1.79},
        {"t": "one nominee", "c": 18.92, "r": 34.84}
      ]},
      "mark": {"type": "text", "align": "left", "baseline": "alphabetic", "font": "Open Sans", "fontWeight": "bold", "fontSize": 23, "color": "#f4f4f4"},
      "encoding": {"text": {"field": "t"}}
    },
    {
      "data": {"values": [{"c": 43.16, "c2": 49.22, "r": 36.59, "r2": 43.79}]},
      "mark": {"type": "rect", "color": "#24705f"},
      "encoding": {"x2": {"field": "c2"}, "y2": {"field": "r2"}}
    },
    {
      "data": {"values": [
        {"t": "HUFF", "c": 46.2, "r": 40.33},
        {"t": "POST", "c": 46.2, "r": 42.01}
      ]},
      "mark": {"type": "text", "align": "center", "baseline": "alphabetic", "font": "Liberation Serif", "fontSize": 25, "color": "#e2f2ec"},
      "encoding": {"text": {"field": "t"}}
    }
  ]
}
